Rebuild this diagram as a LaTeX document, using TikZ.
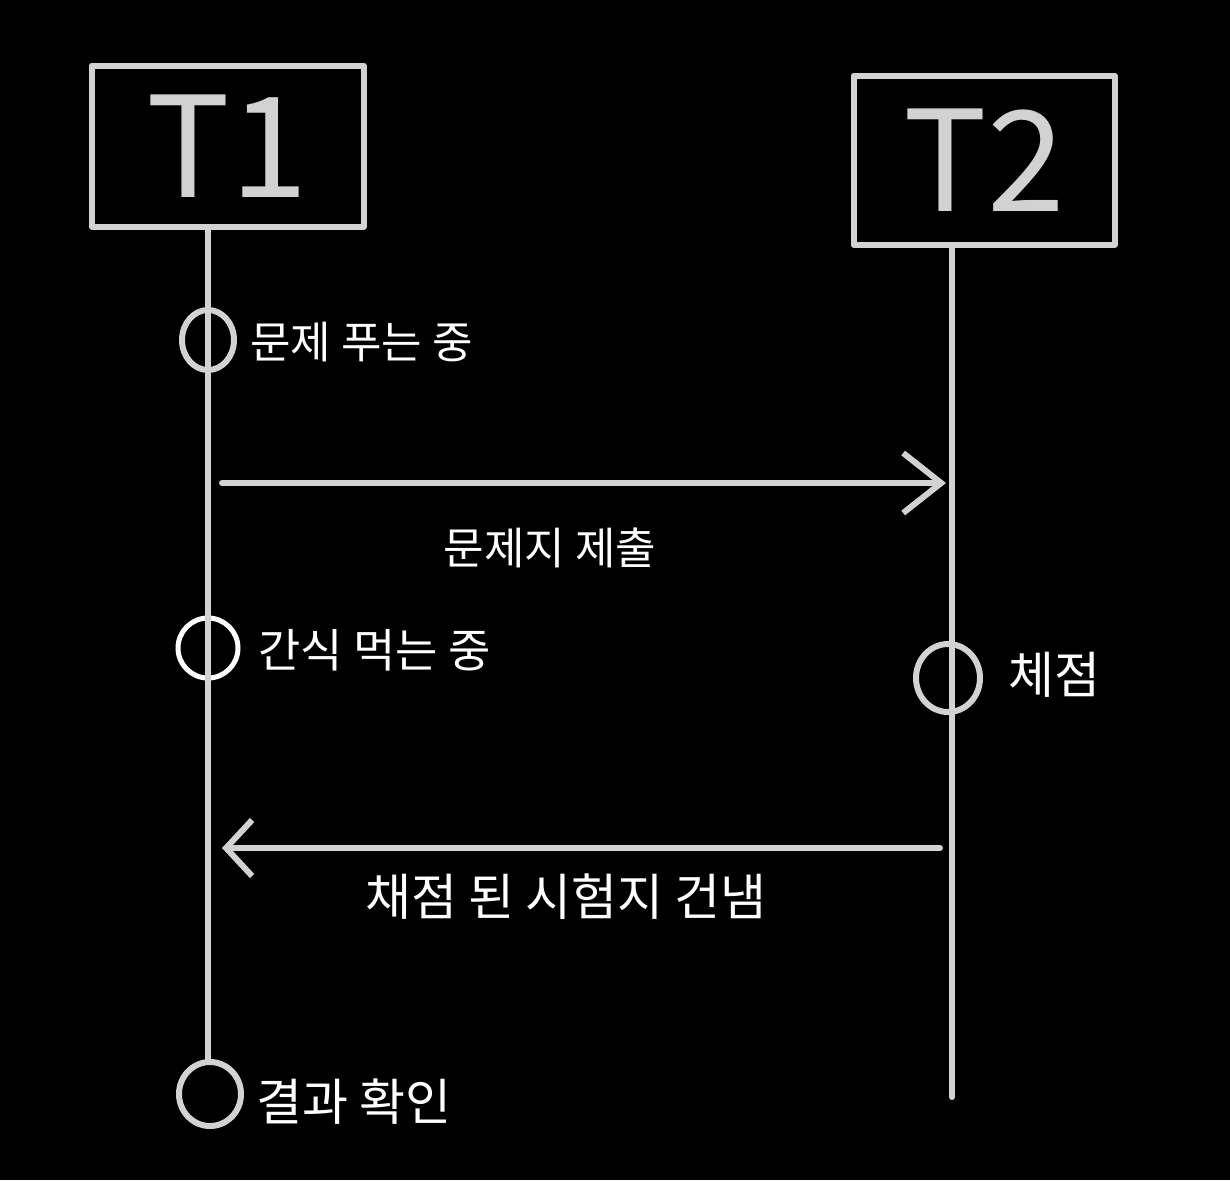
\documentclass[tikz,border=0pt]{standalone}
\usepackage{fontspec}
\newfontfamily\kr{Noto Sans CJK KR}
\usetikzlibrary{arrows.meta,shapes.geometric}
\definecolor{chalk}{HTML}{D2D2D2}
\begin{document}
\begin{tikzpicture}[x=0.5pt,y=-0.5pt,
  chalk/.style={draw=chalk,line width=3pt,line cap=round,line join=round},
  boxnode/.style={chalk,rectangle,inner sep=0pt,text=chalk,font=\kr\fontsize{70pt}{80pt}\selectfont},
  ell/.style={chalk,ellipse,inner sep=0pt},
  lbl/.style={text=white,inner sep=0pt,font=\kr\fontsize{25pt}{30pt}\selectfont},
  barbA/.style={-{Straight Barb[length=19pt,width=30pt]}},
  barbB/.style={-{Straight Barb[length=13pt,width=28pt]}}]
\fill[black] (0,0) rectangle (1230,1180);
\useasboundingbox (0,0) rectangle (1230,1180);
% boxes
\node[boxnode,minimum width=136pt,minimum height=80.5pt] (T1) at (227.5,146) {T1};
\node[boxnode,minimum width=130.5pt,minimum height=84.5pt] (T2) at (984,160) {T2};
% lifeline anchors
\coordinate (a0) at (208,230);
\coordinate (b0) at (952,248);
\coordinate (b1) at (952,1097);
% activation circles
\node[ell,minimum width=26pt,minimum height=30pt] (c1) at (208,340) {};
\node[circle,draw=white,line width=2.5pt,minimum size=30pt,inner sep=0pt] (c2) at (208,648) {};
\node[ell,minimum width=32pt,minimum height=34pt] (c3) at (948,678) {};
\node[ell,minimum width=31pt,minimum height=32pt] (c4) at (210,1094) {};
% lifelines
\draw[chalk] (a0) -- (c4.north -| a0);
\draw[chalk] (b0) -- (b1);
% messages
\coordinate (m1s) at (222,483);
\coordinate (m1e) at (946,483);
\coordinate (m2s) at (940,848);
\coordinate (m2e) at (222,848);
\draw[chalk,barbA] (m1s) -- (m1e);
\draw[chalk,barbB] (m2s) -- (m2e);
% labels
\node[lbl,anchor=west,font=\kr\fontsize{22pt}{26pt}\selectfont] (l1) at (250,342) {문제 푸는 중};
\node[lbl,font=\kr\fontsize{22pt}{26pt}\selectfont] (l2) at (550,548) {문제지 제출};
\node[lbl,anchor=west,font=\kr\fontsize{23pt}{28pt}\selectfont] (l3) at (258,650) {간식 먹는 중};
\node[lbl,anchor=west] (l4) at (1008,675) {체점};
\node[lbl] (l5) at (566,897) {채점 된 시험지 건냄};
\node[lbl,anchor=west] (l6) at (256,1102) {결과 확인};
\end{tikzpicture}
\end{document}
